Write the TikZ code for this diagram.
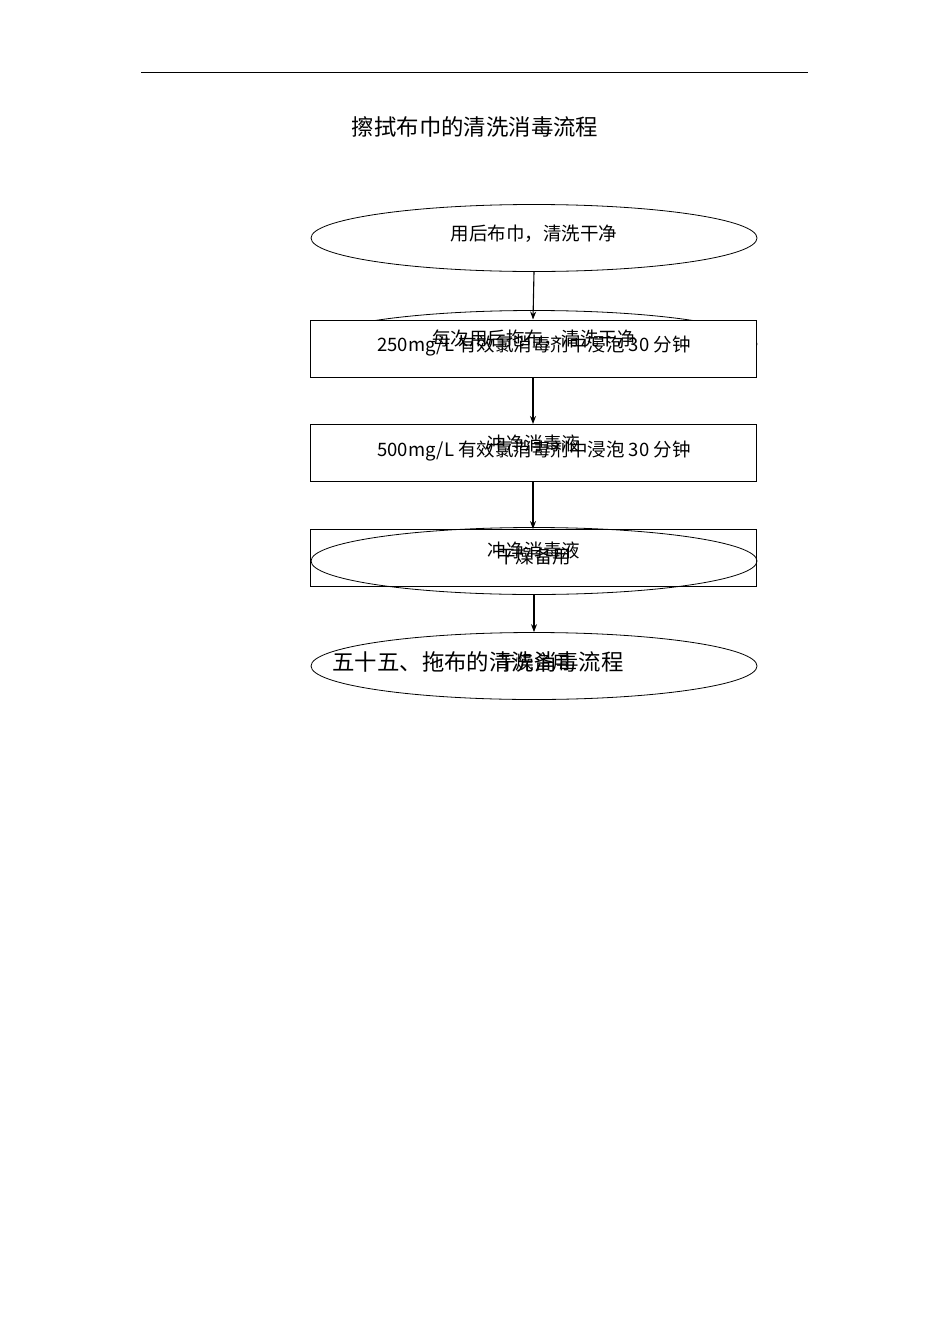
\documentclass[tikz,border=0pt]{standalone}
\usepackage{fontspec}
\setmainfont{Liberation Sans}
\newfontfamily\cjk{Noto Sans CJK SC}
\usetikzlibrary{shapes.geometric,arrows.meta}
\begin{document}
\begin{tikzpicture}[x=1pt,y=-1pt,
  ell/.style={draw,ellipse,minimum width=446pt,minimum height=67pt,line width=0.8pt},
  boxx/.style={draw,minimum width=446pt,minimum height=57pt,line width=1pt},
  lbl/.style={font=\cjk\fontsize{18.5}{20}\selectfont},
  big/.style={font=\cjk\fontsize{22.4}{24}\selectfont},
  arr/.style={-{Stealth[length=8pt,width=6pt]},line width=1.1pt}]
\useasboundingbox (0,0) rectangle (950,1344);
\draw[line width=1pt] (141,72) -- (808,72);
\node[big] (title) at (475,127) {擦拭布巾的清洗消毒流程};
\node[ell] (e1) at (534,238) {};
\node[ell] (e2) at (534,344) {};
\node[boxx,fill=white] (b1) at (533,348.5) {};
\node[boxx] (b2) at (533,453) {};
\node[boxx] (b3) at (533,558) {};
\node[ell] (e3) at (534,561) {};
\node[ell] (e4) at (534,666) {};
\draw[arr] (e1.south) -- (b1.north);
\draw[arr] (b1.south) -- (b2.north);
\draw[arr] (b2.south) -- (b3.north);
\draw[arr] (e3.south) -- (e4.north);
\node[lbl] (t1) at (534,234) {用后布巾，清洗干净};
\node[lbl] (t2) at (534,339) {每次用后拖布，清洗干净};
\node[lbl] (t3) at (534,346) {250mg/L 有效氯消毒剂中浸泡 30 分钟};
\node[lbl] (t4) at (534,443) {冲净消毒液};
\node[lbl] (t5) at (534,451) {500mg/L 有效氯消毒剂中浸泡 30 分钟};
\node[lbl] (t6) at (534,550) {冲净消毒液};
\node[lbl] (t7) at (534,556) {干燥备用};
\node[lbl] (t8) at (534,662) {干燥备用};
\node[big,anchor=west] (t9) at (329,662) {五十五、拖布的清洗消毒流程};
\end{tikzpicture}
\end{document}
